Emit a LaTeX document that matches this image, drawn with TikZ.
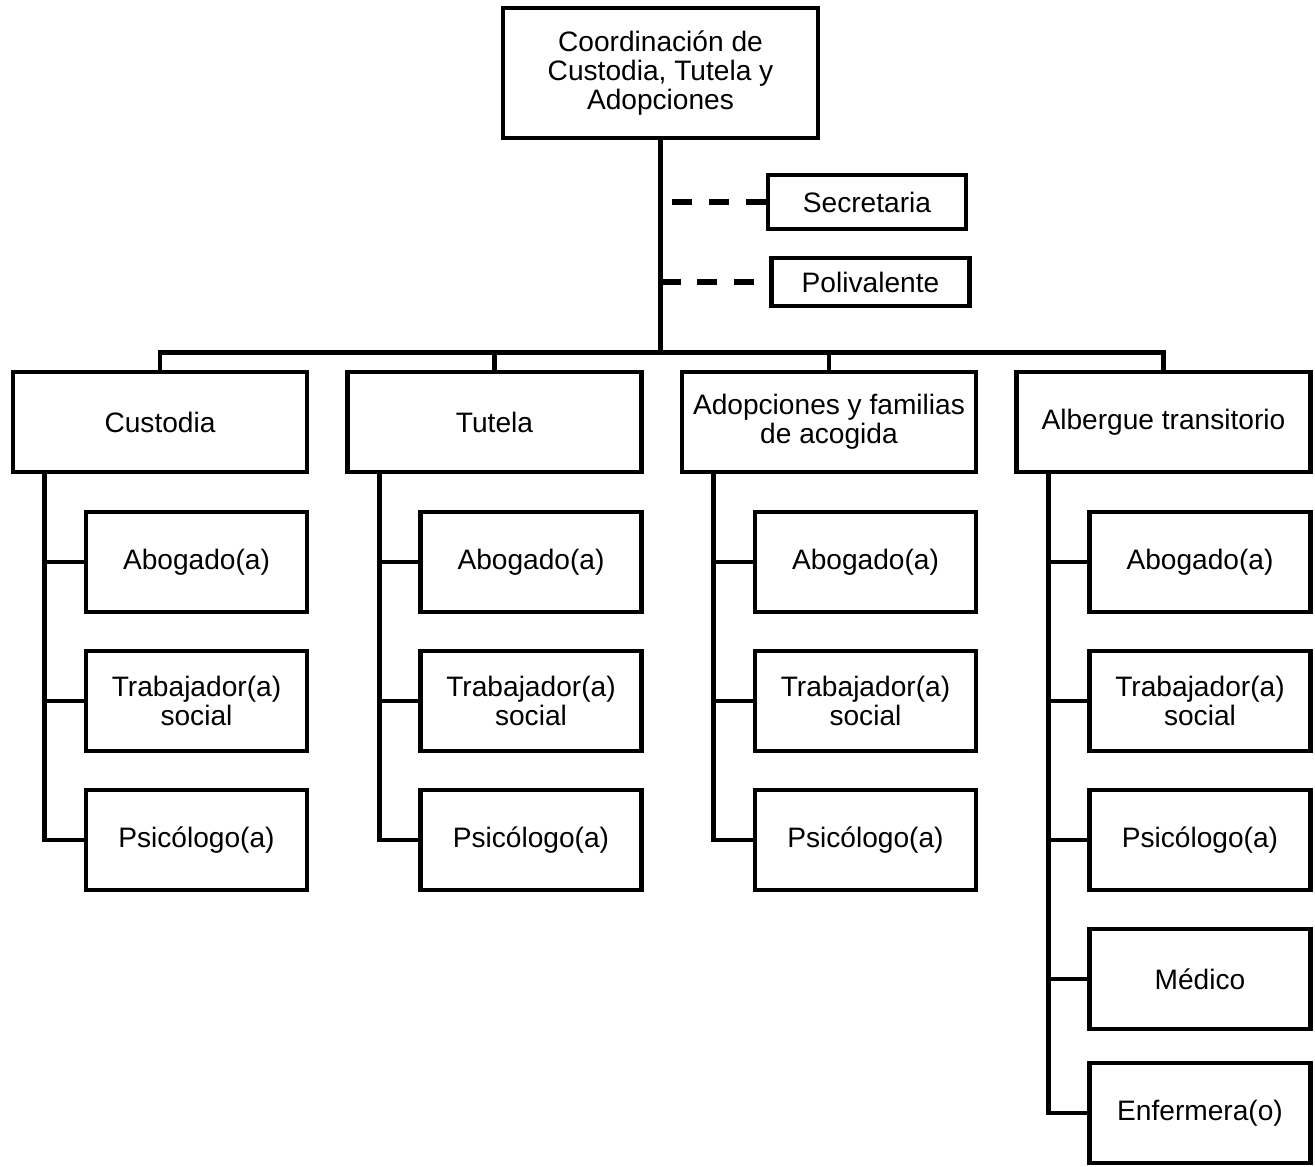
\documentclass[tikz,border=0pt]{standalone}
\usepackage{fontspec}
\setmainfont{Liberation Sans}
\usepackage{tikz}

\begin{document}
\begin{tikzpicture}[
    every node/.style={font=\fontsize{8}{8.2}\selectfont},
    box/.style={draw, line width=1.4pt, align=center, inner sep=0pt},
    unit/.style={box, minimum width=2.94cm, minimum height=1cm},
    staff/.style={box, minimum width=2.21cm, minimum height=1cm},
    aide/.style={box, minimum width=1.98cm},
    link/.style={line width=1.4pt},
    dashlink/.style={line width=1.7pt, dash pattern=on 5.7pt off 4.8pt}]
  \useasboundingbox (0,0) rectangle (13.15,-11.67);

  % head and support staff
  \node[box, minimum width=3.15cm, minimum height=1.3cm] (coord) at (6.605,-0.73) {Coordinación de\\Custodia, Tutela y\\Adopciones};
  \node[aide, minimum height=0.54cm] (secr) at (8.67,-2.02) {Secretaria};
  \node[aide, minimum height=0.48cm] (poli) at (8.705,-2.82) {Polivalente};

  % units
  \node[unit] (cust) at (1.60,-4.22) {Custodia};
  \node[unit] (tut) at (4.945,-4.22) {Tutela};
  \node[unit] (adop) at (8.29,-4.22) {Adopciones y familias\\de acogida};
  \node[unit] (alb) at (11.635,-4.22) {Albergue transitorio};

  % staff of each unit
  \node[staff] (cust1) at (1.965,-5.62) {Abogado(a)};
  \node[staff] (cust2) at (1.965,-7.01) {Trabajador(a)\\social};
  \node[staff] (cust3) at (1.965,-8.40) {Psicólogo(a)};

  \node[staff] (tut1) at (5.31,-5.62) {Abogado(a)};
  \node[staff] (tut2) at (5.31,-7.01) {Trabajador(a)\\social};
  \node[staff] (tut3) at (5.31,-8.40) {Psicólogo(a)};

  \node[staff] (adop1) at (8.655,-5.62) {Abogado(a)};
  \node[staff] (adop2) at (8.655,-7.01) {Trabajador(a)\\social};
  \node[staff] (adop3) at (8.655,-8.40) {Psicólogo(a)};

  \node[staff] (alb1) at (12.0,-5.62) {Abogado(a)};
  \node[staff] (alb2) at (12.0,-7.01) {Trabajador(a)\\social};
  \node[staff] (alb3) at (12.0,-8.40) {Psicólogo(a)};
  \node[staff] (alb4) at (12.0,-9.79) {Médico};
  \node[staff] (alb5) at (12.0,-11.13) {Enfermera(o)};

  % head to units
  \draw[link] (coord.south) -- ++(0,-2.12) coordinate (hub);
  \draw[link] (cust.north) |- (hub) -| (alb.north);
  \draw[link] (tut.north) -- (tut.north |- hub);
  \draw[link] (adop.north) -- (adop.north |- hub);
  \draw[dashlink] (secr.west) -- (secr.west -| coord.south);
  \draw[dashlink] (poli.west -| coord.south) -- (poli.west);

  % units to staff
  \coordinate (custsp) at ([xshift=3.4mm]cust.south west);
  \draw[link] (custsp) |- (cust3.west);
  \draw[link] (cust1.west) -- (cust1.west -| custsp);
  \draw[link] (cust2.west) -- (cust2.west -| custsp);

  \coordinate (tutsp) at ([xshift=3.4mm]tut.south west);
  \draw[link] (tutsp) |- (tut3.west);
  \draw[link] (tut1.west) -- (tut1.west -| tutsp);
  \draw[link] (tut2.west) -- (tut2.west -| tutsp);

  \coordinate (adopsp) at ([xshift=3.4mm]adop.south west);
  \draw[link] (adopsp) |- (adop3.west);
  \draw[link] (adop1.west) -- (adop1.west -| adopsp);
  \draw[link] (adop2.west) -- (adop2.west -| adopsp);

  \coordinate (albsp) at ([xshift=3.4mm]alb.south west);
  \draw[link] (albsp) |- (alb5.west);
  \draw[link] (alb1.west) -- (alb1.west -| albsp);
  \draw[link] (alb2.west) -- (alb2.west -| albsp);
  \draw[link] (alb3.west) -- (alb3.west -| albsp);
  \draw[link] (alb4.west) -- (alb4.west -| albsp);
\end{tikzpicture}
\end{document}
